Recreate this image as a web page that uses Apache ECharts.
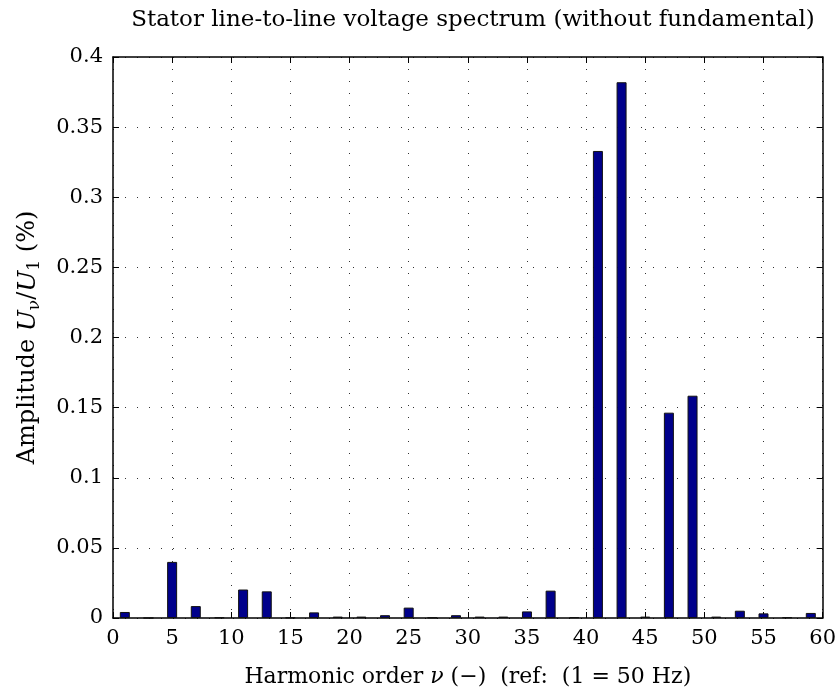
<!DOCTYPE html>
<html>
<head>
<meta charset="utf-8">
<script src="https://cdn.jsdelivr.net/npm/echarts@6/dist/echarts.min.js"></script>
<style>
html, body { margin: 0; padding: 0; background: #fff; }
#chart { width: 839px; height: 695px; }
</style>
</head>
<body>
<div id="chart"></div>
<script>
// harmonic orders (odd only) and amplitudes in %
var harmonics = [1, 3, 5, 7, 9, 11, 13, 15, 17, 19, 21, 23, 25, 27, 29,
                 31, 33, 35, 37, 39, 41, 43, 45, 47, 49, 51, 53, 55, 57, 59];
var amplitudes = [0.0043, 0, 0.040, 0.0085, 0.0004, 0.0203, 0.019, 0.0003, 0.004, 0.001,
                  0.001, 0.002, 0.0074, 0.0003, 0.002, 0.001, 0.001, 0.0047, 0.0195, 0.0005,
                  0.333, 0.382, 0.001, 0.1464, 0.1585, 0.001, 0.0052, 0.0033, 0.0005, 0.0036];
var xTicks = [0, 5, 10, 15, 20, 25, 30, 35, 40, 45, 50, 55, 60];
var yTicks = [0, 0.05, 0.1, 0.15, 0.2, 0.25, 0.3, 0.35, 0.4];

var serif = '"DejaVu Serif", "Liberation Serif", serif';

var barData = [];
for (var i = 0; i < harmonics.length; i++) {
	barData.push([harmonics[i], amplitudes[i]]);
}

/*坐标轴公共样式*/
var tick = { show: true, inside: true, length: 6, lineStyle: { color: '#000', width: 1 } };
var axisLine = { show: true, onZero: false, lineStyle: { color: '#000', width: 1.5 } };
var dotted = { show: true, lineStyle: { color: '#333', width: 1, type: [1, 11] } };

var chart = echarts.init(document.getElementById('chart'));
chart.setOption({
	animation: false,
	backgroundColor: '#fff',
	title: {
		text: 'Stator line-to-line voltage spectrum (without fundamental)',
		left: 468, top: 4, textAlign: 'center',
		textStyle: { fontFamily: serif, fontWeight: 'normal', fontSize: 23, color: '#000' }
	},
	grid: { left: 113, right: 16, top: 57, bottom: 77 },
	xAxis: [{
		type: 'value', min: xTicks[0], max: xTicks[xTicks.length - 1], interval: 5,
		axisLine: axisLine, axisTick: tick, splitLine: dotted,
		axisLabel: { margin: 10, fontFamily: serif, fontSize: 21, color: '#000' },
		name: '{n|Harmonic order }{i|ν}{n| (−)  (ref:  (1 = 50 Hz)}',
		nameLocation: 'middle', nameGap: 48,
		nameTextStyle: {
			rich: {
				n: { fontFamily: serif, fontSize: 22, color: '#000' },
				i: { fontFamily: serif, fontSize: 22, fontStyle: 'italic', color: '#000' }
			}
		}
	}, {
		type: 'value', position: 'top', min: 0, max: 60, interval: 5,
		axisLine: axisLine, axisTick: tick, splitLine: { show: false },
		axisLabel: { show: false }
	}],
	yAxis: [{
		type: 'value', min: yTicks[0], max: yTicks[yTicks.length - 1], interval: 0.05,
		axisLine: axisLine, axisTick: tick, splitLine: dotted,
		axisLabel: { margin: 10, fontFamily: serif, fontSize: 21, color: '#000' },
		name: '{n|Amplitude }{i|U}{s|ν}{n|/}{i|U}{s|1}{n| (%)}',
		nameLocation: 'middle', nameGap: 70, nameRotate: 90,
		nameTextStyle: {
			rich: {
				n: { fontFamily: serif, fontSize: 24, color: '#000', lineHeight: 30 },
				i: { fontFamily: serif, fontSize: 25, fontStyle: 'italic', color: '#000', lineHeight: 30 },
				s: { fontFamily: serif, fontSize: 17, color: '#000', verticalAlign: 'bottom', lineHeight: 30 }
			}
		}
	}, {
		type: 'value', position: 'right', min: 0, max: 0.4, interval: 0.05,
		axisLine: axisLine, axisTick: tick, splitLine: { show: false },
		axisLabel: { show: false }
	}],
	series: [{
		type: 'bar',
		xAxisIndex: 0, yAxisIndex: 0,
		data: barData,
		barWidth: 10,
		itemStyle: { color: '#00008b', borderColor: '#111', borderWidth: 1 }
	}]
});
</script>
</body>
</html>
